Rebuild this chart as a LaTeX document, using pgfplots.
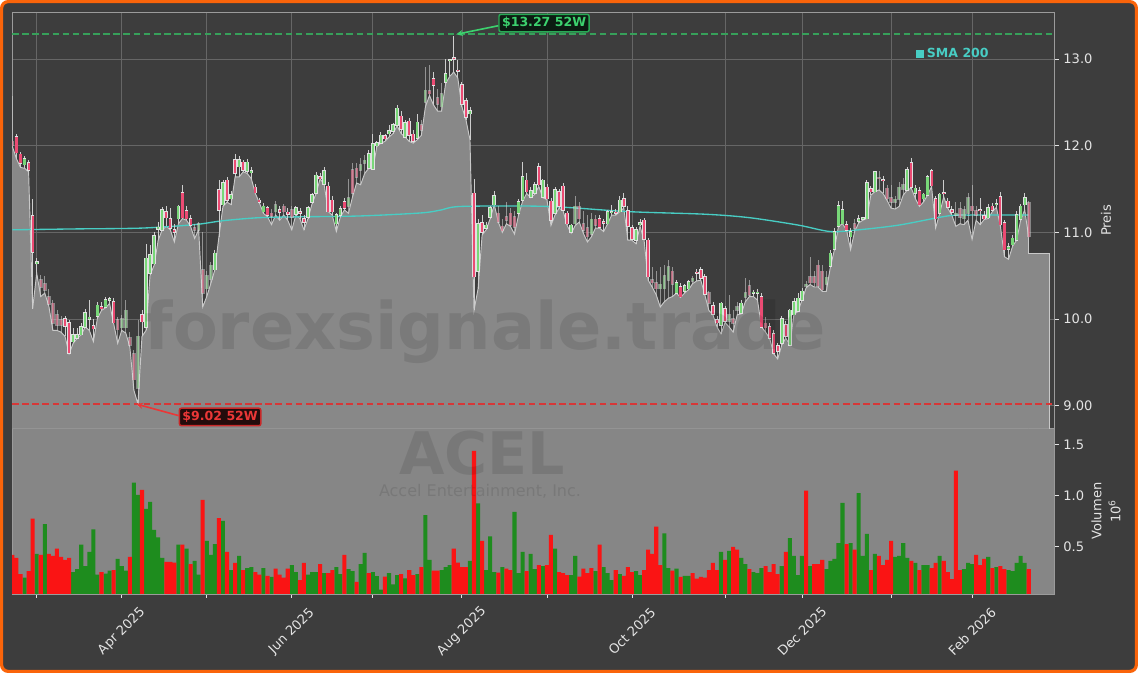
\documentclass[border=0pt]{standalone}
\usepackage{fontspec}
\setmainfont{DejaVu Sans}
\usepackage{pgfplots}
\pgfplotsset{compat=1.18}
\usepackage{pgfplotstable}
\usetikzlibrary{arrows.meta}

\definecolor{bg}{RGB}{61,61,61}
\definecolor{areagray}{RGB}{136,136,136}
\definecolor{volbg}{RGB}{134,134,134}
\definecolor{gridc}{RGB}{102,102,102}
\definecolor{framec}{RGB}{155,155,155}
\definecolor{tickc}{RGB}{228,228,228}
\definecolor{smac}{RGB}{72,205,196}
\definecolor{upc}{RGB}{120,215,120}
\definecolor{dnc}{RGB}{235,75,115}
\definecolor{edgec}{RGB}{225,225,225}
\definecolor{wickc}{RGB}{205,205,205}
\definecolor{areaedge}{RGB}{200,200,200}
\definecolor{volg}{RGB}{30,140,30}
\definecolor{volr}{RGB}{250,20,20}
\definecolor{hiline}{RGB}{55,160,90}
\definecolor{loline}{RGB}{215,55,55}
\definecolor{gtext}{RGB}{60,210,110}
\definecolor{gborder}{RGB}{40,170,85}
\definecolor{gfill}{RGB}{12,28,18}
\definecolor{rtext}{RGB}{235,55,55}
\definecolor{rborder}{RGB}{200,40,40}
\definecolor{rfill}{RGB}{35,12,12}
\definecolor{orangeb}{RGB}{250,100,10}

\pgfplotstableread{
i o h l c v g p
0 12.05 12.57 11.99 12.00 0.42 0 1
1 12.10 12.14 11.85 11.92 0.39 0 0
2 11.90 11.93 11.75 11.80 0.23 0 0
3 11.78 11.88 11.74 11.85 0.196 1 0
4 11.80 11.83 11.70 11.72 0.26 0 0
5 11.19 11.39 10.12 10.77 0.775 0 0
6 10.64 10.70 10.53 10.66 0.43 1 0
7 10.45 10.51 10.26 10.37 0.42 0 1
8 10.41 10.50 10.30 10.33 0.72 1 1
9 10.26 10.35 10.15 10.17 0.43 0 1
10 10.18 10.22 9.87 9.95 0.41 0 1
11 10.05 10.10 9.87 9.93 0.48 0 1
12 9.99 10.03 9.85 9.93 0.40 0 1
13 10.00 10.04 9.80 9.92 0.37 0 0
14 9.96 9.99 9.60 9.61 0.39 0 0
15 9.74 9.90 9.72 9.82 0.25 1 0
16 9.78 9.90 9.78 9.82 0.28 1 0
17 9.82 9.95 9.82 9.91 0.52 1 0
18 9.91 10.12 9.91 10.07 0.31 1 0
19 10.00 10.22 9.87 10.02 0.45 1 0
20 9.92 10.00 9.74 9.89 0.67 1 0
21 10.03 10.20 10.01 10.16 0.226 1 0
22 10.14 10.20 10.10 10.12 0.25 0 0
23 10.14 10.25 10.13 10.22 0.235 1 0
24 10.22 10.26 10.18 10.23 0.265 1 0
25 10.20 10.24 9.95 9.96 0.27 0 0
26 9.99 10.02 9.72 9.88 0.38 1 1
27 9.90 10.05 9.87 10.00 0.31 1 1
28 9.90 10.22 9.84 10.10 0.265 1 1
29 9.78 9.85 9.68 9.70 0.40 0 1
30 9.60 9.64 9.18 9.30 1.128 1 1
31 9.20 9.99 9.02 9.80 1.007 1 1
32 10.05 10.10 9.80 9.97 1.056 0 0
33 9.91 10.87 9.87 10.70 0.87 1 0
34 10.53 10.86 10.51 10.74 0.94 1 0
35 10.64 11.00 10.62 10.96 0.664 1 0
36 11.04 11.12 10.91 11.06 0.59 1 0
37 11.03 11.29 11.03 11.26 0.39 1 0
38 11.24 11.30 11.07 11.17 0.35 0 0
39 11.16 11.28 11.03 11.05 0.35 0 0
40 11.03 11.10 10.89 11.00 0.344 0 0
41 11.16 11.32 11.10 11.30 0.52 1 0
42 11.46 11.55 11.16 11.17 0.52 0 0
43 11.25 11.30 11.14 11.16 0.48 1 0
44 11.16 11.20 11.07 11.08 0.33 0 0
45 11.05 11.10 10.93 11.03 0.36 1 1
46 11.03 11.12 11.03 11.10 0.226 1 1
47 10.57 11.00 10.14 10.30 0.958 0 1
48 10.35 10.55 10.26 10.50 0.556 1 1
49 10.46 10.66 10.41 10.62 0.42 1 1
50 10.57 10.80 10.57 10.76 0.526 1 0
51 11.49 11.60 10.95 11.26 0.78 0 0
52 11.32 11.60 11.30 11.57 0.752 1 0
53 11.60 11.64 11.35 11.37 0.448 0 0
54 11.39 11.48 11.32 11.43 0.27 1 0
55 11.84 11.90 11.64 11.68 0.34 0 0
56 11.76 11.88 11.64 11.84 0.41 1 0
57 11.81 11.84 11.70 11.72 0.27 0 0
58 11.71 11.85 11.68 11.81 0.29 1 0
59 11.69 11.75 11.62 11.71 0.30 1 0
60 11.52 11.56 11.45 11.46 0.25 0 0
61 11.37 11.40 11.34 11.35 0.226 0 0
62 11.24 11.34 11.22 11.30 0.29 1 0
63 11.28 11.31 11.18 11.20 0.213 0 0
64 11.22 11.27 11.09 11.19 0.203 1 1
65 11.24 11.36 11.20 11.32 0.285 0 1
66 11.26 11.30 11.14 11.23 0.226 0 0
67 11.30 11.33 11.20 11.24 0.196 0 1
68 11.23 11.28 11.14 11.21 0.285 0 0
69 11.26 11.30 11.03 11.18 0.32 1 1
70 11.21 11.31 11.20 11.28 0.25 1 0
71 11.24 11.28 11.16 11.22 0.173 0 0
72 11.16 11.20 11.03 11.12 0.34 0 0
73 11.18 11.30 11.16 11.28 0.226 1 0
74 11.35 11.46 11.33 11.43 0.25 1 0
75 11.45 11.70 11.45 11.66 0.25 1 0
76 11.64 11.68 11.62 11.62 0.33 0 0
77 11.56 11.76 11.55 11.71 0.24 1 0
78 11.53 11.58 11.24 11.24 0.24 0 0
79 11.37 11.42 11.20 11.24 0.27 0 0
80 11.10 11.22 11.01 11.20 0.30 1 0
81 11.20 11.30 11.18 11.27 0.23 1 0
82 11.35 11.40 11.26 11.28 0.42 0 0
83 11.30 11.62 11.22 11.40 0.28 1 1
84 11.72 11.80 11.41 11.45 0.26 1 1
85 11.74 11.80 11.57 11.64 0.155 0 1
86 11.72 11.86 11.55 11.78 0.33 1 1
87 11.80 11.89 11.68 11.83 0.44 1 1
88 11.74 11.95 11.74 11.91 0.24 0 0
89 11.73 12.13 11.73 12.02 0.25 1 0
90 12.00 12.06 11.99 12.03 0.21 1 0
91 12.03 12.16 12.03 12.12 0.08 1 0
92 12.11 12.14 12.05 12.08 0.206 0 0
93 12.14 12.24 12.10 12.17 0.24 1 0
94 12.17 12.26 12.14 12.24 0.13 1 0
95 12.24 12.47 12.23 12.43 0.22 1 0
96 12.34 12.40 12.14 12.19 0.23 0 0
97 12.10 12.30 12.10 12.26 0.19 1 0
98 12.28 12.32 12.05 12.12 0.27 0 0
99 12.13 12.18 12.03 12.05 0.22 0 0
100 12.09 12.37 12.07 12.27 0.23 1 0
101 12.24 12.30 12.12 12.18 0.30 0 1
102 12.50 12.91 12.45 12.64 0.81 1 1
103 12.63 12.93 12.58 12.60 0.37 1 1
104 12.77 12.85 12.47 12.70 0.265 0 0
105 12.55 12.65 12.40 12.48 0.265 0 1
106 12.45 12.72 12.40 12.60 0.27 1 1
107 12.73 13.00 12.72 12.83 0.30 1 0
108 12.98 13.00 12.80 12.99 0.32 1 0
109 13.01 13.27 12.85 13.00 0.48 0 0
110 12.87 12.99 12.78 12.86 0.344 0 0
111 12.70 12.74 12.45 12.48 0.30 0 0
112 12.52 12.55 12.30 12.33 0.30 0 0
113 12.37 12.45 12.07 12.40 0.36 1 0
114 11.45 11.62 10.10 10.49 1.44 0 0
115 10.55 11.15 10.35 11.10 0.925 1 0
116 11.11 11.20 10.97 11.00 0.556 0 0
117 11.05 11.12 11.03 11.08 0.27 1 0
118 11.18 11.30 11.16 11.28 0.60 1 0
119 11.32 11.48 11.32 11.42 0.25 1 0
120 11.22 11.30 11.12 11.12 0.245 0 1
121 11.07 11.15 11.00 11.02 0.30 1 1
122 11.18 11.35 11.10 11.14 0.285 0 1
123 11.22 11.28 11.07 11.08 0.27 0 1
124 11.18 11.25 10.98 11.06 0.84 1 1
125 11.22 11.38 11.20 11.35 0.24 1 0
126 11.37 11.81 11.36 11.64 0.448 1 0
127 11.60 11.68 11.45 11.47 0.26 0 0
128 11.41 11.52 11.40 11.48 0.43 1 0
129 11.45 11.58 11.44 11.55 0.28 1 0
130 11.76 11.80 11.53 11.55 0.32 0 0
131 11.41 11.62 11.40 11.60 0.31 1 0
132 11.52 11.56 11.38 11.39 0.32 0 0
133 11.36 11.40 11.08 11.14 0.615 0 0
134 11.22 11.52 11.20 11.49 0.48 1 0
135 11.47 11.50 11.28 11.30 0.25 0 0
136 11.53 11.57 11.25 11.26 0.24 0 0
137 11.22 11.25 11.08 11.10 0.22 0 0
138 11.00 11.10 10.99 11.08 0.22 1 0
139 11.10 11.42 11.08 11.30 0.41 1 1
140 11.30 11.35 11.12 11.16 0.206 0 1
141 11.10 11.25 10.99 11.03 0.285 0 1
142 11.05 11.20 10.89 10.95 0.24 0 1
143 10.98 11.22 10.95 11.15 0.29 0 1
144 11.15 11.20 11.05 11.08 0.26 1 1
145 11.16 11.20 11.05 11.06 0.52 0 0
146 11.12 11.15 11.01 11.11 0.30 1 0
147 11.10 11.26 11.10 11.24 0.24 1 0
148 11.23 11.32 11.20 11.24 0.173 1 0
149 11.23 11.27 11.20 11.22 0.27 0 0
150 11.24 11.42 11.24 11.37 0.23 1 0
151 11.39 11.45 11.28 11.30 0.213 0 0
152 11.25 11.30 10.91 11.07 0.30 0 0
153 11.05 11.08 10.91 10.92 0.25 0 0
154 10.91 11.06 10.87 11.03 0.26 1 0
155 11.09 11.16 11.07 11.11 0.22 1 0
156 11.14 11.17 10.91 10.92 0.27 0 0
157 10.91 10.93 10.45 10.49 0.47 0 0
158 10.45 10.60 10.37 10.42 0.43 0 1
159 10.42 10.55 10.28 10.35 0.696 0 1
160 10.35 10.60 10.14 10.40 0.32 0 1
161 10.35 10.62 10.20 10.50 0.63 1 1
162 10.45 10.68 10.24 10.60 0.29 1 1
163 10.55 10.60 10.26 10.40 0.265 0 1
164 10.30 10.45 10.30 10.42 0.285 1 0
165 10.37 10.42 10.25 10.26 0.203 0 0
166 10.32 10.40 10.30 10.38 0.213 1 0
167 10.35 10.45 10.34 10.43 0.213 1 0
168 10.44 10.50 10.41 10.47 0.24 0 1
169 10.54 10.58 10.44 10.53 0.186 0 0
170 10.57 10.60 10.45 10.47 0.203 0 0
171 10.49 10.52 10.28 10.29 0.196 0 0
172 10.30 10.32 10.10 10.18 0.27 0 1
173 10.15 10.20 10.05 10.06 0.34 0 0
174 9.99 10.03 9.91 9.96 0.27 0 0
175 9.93 10.20 9.83 10.18 0.448 1 0
176 10.12 10.15 9.96 9.98 0.37 0 0
177 9.98 10.28 9.91 10.05 0.46 1 1
178 10.00 10.10 9.85 9.95 0.497 0 1
179 10.10 10.20 10.05 10.14 0.47 0 1
180 10.07 10.22 10.06 10.18 0.39 1 0
181 10.25 10.47 10.20 10.30 0.33 1 1
182 10.38 10.45 10.26 10.28 0.28 0 1
183 10.30 10.34 10.26 10.31 0.25 1 0
184 10.30 10.35 10.22 10.31 0.24 1 0
185 10.26 10.30 9.91 9.91 0.29 1 0
186 9.95 10.02 9.85 9.90 0.31 0 1
187 9.91 9.96 9.78 9.78 0.25 0 0
188 9.83 9.87 9.60 9.61 0.33 0 0
189 9.69 9.73 9.54 9.63 0.23 0 0
190 9.72 10.03 9.70 10.00 0.31 1 0
191 9.93 9.98 9.78 9.80 0.448 0 0
192 9.70 10.12 9.70 10.10 0.585 1 0
193 10.05 10.24 10.05 10.20 0.41 1 0
194 10.09 10.30 10.09 10.24 0.22 1 0
195 10.22 10.36 10.22 10.32 0.41 1 0
196 10.38 10.44 10.36 10.40 1.05 0 1
197 10.49 10.72 10.40 10.42 0.31 1 1
198 10.49 10.55 10.37 10.42 0.33 0 1
199 10.62 10.68 10.37 10.38 0.33 0 1
200 10.55 10.62 10.32 10.34 0.37 0 1
201 10.40 10.55 10.32 10.48 0.28 1 1
202 10.61 10.80 10.60 10.76 0.36 1 0
203 10.81 11.05 10.80 11.01 0.38 1 0
204 11.07 11.36 11.07 11.31 0.536 1 0
205 11.10 11.36 11.10 11.26 0.93 1 0
206 11.09 11.13 11.03 11.03 0.526 0 0
207 10.95 11.05 10.80 11.01 0.536 1 0
208 11.10 11.16 11.01 11.05 0.47 0 1
209 11.13 11.20 11.11 11.16 1.026 1 0
210 11.15 11.18 11.14 11.17 0.41 1 0
211 11.16 11.60 11.16 11.57 0.625 1 0
212 11.50 11.54 11.43 11.47 0.27 0 0
213 11.47 11.71 11.47 11.70 0.43 1 0
214 11.63 11.71 11.49 11.62 0.41 0 1
215 11.61 11.65 11.45 11.60 0.32 0 0
216 11.51 11.55 11.37 11.39 0.37 0 1
217 11.40 11.55 11.28 11.35 0.556 0 1
218 11.35 11.42 11.27 11.38 0.40 1 1
219 11.38 11.58 11.30 11.52 0.41 1 1
220 11.50 11.63 11.43 11.55 0.536 1 1
221 11.49 11.75 11.49 11.72 0.39 1 0
222 11.80 11.86 11.51 11.52 0.36 0 0
223 11.45 11.55 11.39 11.51 0.34 1 0
224 11.48 11.52 11.30 11.32 0.27 0 0
225 11.39 11.46 11.35 11.44 0.32 1 0
226 11.43 11.66 11.43 11.64 0.32 1 0
227 11.71 11.73 11.53 11.54 0.29 0 0
228 11.39 11.42 11.05 11.16 0.34 0 0
229 11.22 11.46 11.22 11.44 0.41 1 0
230 11.46 11.61 11.41 11.45 0.36 0 0
231 11.36 11.40 11.28 11.29 0.25 0 0
232 11.26 11.30 11.20 11.23 0.183 0 0
233 11.20 11.35 11.07 11.22 1.245 0 1
234 11.27 11.35 11.10 11.18 0.27 0 1
235 11.16 11.30 11.09 11.26 0.28 1 1
236 11.22 11.45 11.14 11.40 0.34 1 1
237 11.30 11.55 10.92 11.25 0.33 1 1
238 11.25 11.30 11.14 11.20 0.42 0 1
239 11.26 11.40 11.09 11.25 0.32 0 0
240 11.19 11.25 11.15 11.16 0.38 0 0
241 11.17 11.33 11.16 11.28 0.40 1 0
242 11.30 11.34 11.24 11.26 0.29 0 0
243 11.32 11.38 11.29 11.33 0.30 1 0
244 11.41 11.47 11.07 11.09 0.31 0 0
245 11.11 11.14 10.72 10.80 0.28 0 0
246 10.81 10.88 10.69 10.83 0.27 1 0
247 10.86 10.97 10.84 10.93 0.26 1 0
248 10.91 11.25 10.91 11.20 0.34 1 0
249 11.15 11.33 11.14 11.30 0.41 1 0
250 11.32 11.46 11.26 11.40 0.34 1 0
251 11.34 11.36 10.94 10.95 0.28 0 1
}\data

\pgfplotstableread{
i s
0 11.03
15 11.04
32 11.05
45 11.09
52 11.135
61 11.17
71 11.18
86 11.19
101 11.225
106 11.26
111 11.30
132 11.30
152 11.24
171 11.21
182 11.17
194 11.085
202 11.01
209 11.03
219 11.085
231 11.19
237 11.20
251 11.20
}\sma

\pgfplotsset{
  cbase/.style={mark=none, -, forget plot},
  bodyout/.style={cbase, quiver={u=0, v={abs(\thisrow{c}-\thisrow{o})+0.016}}, line width=2.7pt, draw=edgec},
  bodyin/.style={cbase, quiver={u=0, v={abs(\thisrow{c}-\thisrow{o})}}, line width=1.6pt},
  commonax/.style={
    scale only axis, width=782pt,
    xmin=-0.1, xmax=257.4,
    xtick={6,27,48,69,89,111,132,153,176,195,217,237},
    tick align=outside, major tick length=3pt,
    tick style={draw=tickc, line width=0.6pt},
    tick label style={font=\fontsize{9.8}{11}\selectfont, text=tickc},
    axis line style={draw=framec, line width=0.6pt},
    ytick pos=right, yticklabel pos=right,
    clip mode=individual,
  },
}

\begin{document}
\begin{tikzpicture}[x=1pt,y=1pt]
\useasboundingbox (0,0) rectangle (853.5,504.75);
\fill[white] (0,0) rectangle (853.5,504.75);
\draw[line width=2.4pt, draw=orangeb, fill=bg, rounded corners=5pt] (1.2,1.2) rectangle (852.3,503.55);

% ---------- volume panel ----------
\begin{axis}[commonax,
  at={(9pt,59.25pt)}, anchor=south west, height=124.3pt,
  ymin=0.036, ymax=1.661,
  ytick={0.5,1,1.5}, yticklabels={0.5,1.0,1.5},
  xtick pos=bottom,
  xticklabels={{},Apr 2025,{},Jun 2025,{},Aug 2025,{},Oct 2025,{},Dec 2025,{},Feb 2026},
  xticklabel style={/tikz/yshift=-25pt,/tikz/rotate=45,anchor=center},
  axis background/.style={fill=volbg},
  ylabel={Volumen\\10\textsuperscript{6}},
  ylabel style={at={(axis description cs:1.0492,0.5)}, anchor=center, rotate=0, align=center, text=tickc, font=\fontsize{9.8}{14.2}\selectfont},
]
\addplot[ybar, bar width=1, bar shift=0pt, fill=volg, draw=none,
  restrict expr to domain={\thisrow{g}}{0.5:1.5}] table[x=i,y=v]{\data};
\addplot[ybar, bar width=1, bar shift=0pt, fill=volr, draw=none,
  restrict expr to domain={\thisrow{g}}{-0.5:0.5}] table[x=i,y=v]{\data};
\end{axis}

% ---------- price panel ----------
\begin{axis}[commonax,
  at={(9pt,183.5pt)}, anchor=south west, height=312.2pt,
  ymin=8.74, ymax=13.542,
  ytick={9,10,11,12,13}, yticklabels={9.00,10.0,11.0,12.0,13.0},
  xticklabels={}, xtick style={/pgfplots/major tick length=0pt},
  grid=major, major grid style={draw=gridc, line width=0.5pt},
  axis background/.style={fill=bg},
  ylabel={Preis},
  ylabel style={at={(axis description cs:1.0492,0.5)}, anchor=center, text=tickc, font=\fontsize{9.8}{11}\selectfont},
  legend style={at={(0.903,0.899)}, anchor=center, draw=none, fill=none, text=smac,
    font=\bfseries\fontsize{9.4}{10}\selectfont, inner sep=1pt},
  legend image code/.code={\fill[smac] (0pt,-2.7pt) rectangle (5.4pt,2.7pt);},
]
% area under the lows
\addplot[fill=areagray, draw=none, forget plot] table[x=i,y=l]{\data} \closedcycle;
\addplot[fill=areagray, draw=none, forget plot] coordinates {(250.9,10.94) (251,10.76) (256.2,10.76)} \closedcycle;
\addplot[areaedge, line width=0.7pt, forget plot] table[x=i,y=l]{\data};
\addplot[areaedge, line width=0.7pt, forget plot] coordinates {(251,10.94) (251,10.76) (256.2,10.76) (256.2,8.70)};
% SMA 200
\addplot[smac, line width=1pt, smooth] table[x=i,y=s]{\sma};
\addlegendentry{SMA 200}
% 52-week lines
\addplot[hiline, line width=1.3pt, dash pattern=on 5pt off 2.6pt, forget plot] coordinates {(-0.1,13.285) (257.4,13.285)};
\addplot[loline, line width=1.3pt, dash pattern=on 5pt off 2.6pt, forget plot] coordinates {(-0.1,9.02) (257.4,9.02)};
% wicks
\addplot[cbase, quiver={u=0, v={\thisrow{h}-\thisrow{l}}}, draw=wickc, line width=0.6pt,
  restrict expr to domain={\thisrow{p}}{-0.5:0.5}] table[x=i,y=l]{\data};
\addplot[cbase, quiver={u=0, v={\thisrow{h}-\thisrow{l}}}, draw=wickc, line width=0.6pt, opacity=0.6,
  restrict expr to domain={\thisrow{p}}{0.5:1.5}] table[x=i,y=l]{\data};
% bodies: k = up + 2*pale
\addplot[bodyout, restrict expr to domain={(\thisrow{c}>=\thisrow{o})+2*\thisrow{p}}{-0.5:0.5}]
  table[x=i, y expr={min(\thisrow{o},\thisrow{c})-0.008}]{\data};
\addplot[bodyin, draw=dnc, restrict expr to domain={(\thisrow{c}>=\thisrow{o})+2*\thisrow{p}}{-0.5:0.5}]
  table[x=i, y expr={min(\thisrow{o},\thisrow{c})}]{\data};
\addplot[bodyout, restrict expr to domain={(\thisrow{c}>=\thisrow{o})+2*\thisrow{p}}{0.5:1.5}]
  table[x=i, y expr={min(\thisrow{o},\thisrow{c})-0.008}]{\data};
\addplot[bodyin, draw=upc, restrict expr to domain={(\thisrow{c}>=\thisrow{o})+2*\thisrow{p}}{0.5:1.5}]
  table[x=i, y expr={min(\thisrow{o},\thisrow{c})}]{\data};
\addplot[bodyout, opacity=0.45, restrict expr to domain={(\thisrow{c}>=\thisrow{o})+2*\thisrow{p}}{1.5:2.5}]
  table[x=i, y expr={min(\thisrow{o},\thisrow{c})-0.008}]{\data};
\addplot[bodyin, draw=dnc, opacity=0.45, restrict expr to domain={(\thisrow{c}>=\thisrow{o})+2*\thisrow{p}}{1.5:2.5}]
  table[x=i, y expr={min(\thisrow{o},\thisrow{c})}]{\data};
\addplot[bodyout, opacity=0.45, restrict expr to domain={(\thisrow{c}>=\thisrow{o})+2*\thisrow{p}}{2.5:3.5}]
  table[x=i, y expr={min(\thisrow{o},\thisrow{c})-0.008}]{\data};
\addplot[bodyin, draw=upc, opacity=0.45, restrict expr to domain={(\thisrow{c}>=\thisrow{o})+2*\thisrow{p}}{2.5:3.5}]
  table[x=i, y expr={min(\thisrow{o},\thisrow{c})}]{\data};
% annotations
\node[fill=gfill, draw=gborder, line width=1.1pt, rounded corners=1.5pt, text=gtext,
  font=\bfseries\fontsize{9.4}{10}\selectfont, inner sep=2.3pt] (hi) at (axis cs:131.3,13.415) {\$13.27 52W};
\draw[gtext, line width=1.2pt, -{Stealth[length=5pt,width=4.5pt]}] ([yshift=-2pt]hi.west) -- (axis cs:109.6,13.285);
\node[fill=rfill, draw=rborder, line width=1.1pt, rounded corners=1.5pt, text=rtext,
  font=\bfseries\fontsize{9.4}{10}\selectfont, inner sep=2.3pt] (lo) at (axis cs:51.3,8.871) {\$9.02 52W};
\draw[rtext, line width=1.2pt, -{Stealth[length=5pt,width=4.5pt]}] ([yshift=1pt]lo.west) -- (axis cs:30.6,9.02);
\end{axis}

% watermark
\node[anchor=base, text=black, text opacity=0.1, font=\bfseries\fontsize{49}{50}\selectfont] at (363.75,242.25) {forexsignale.trade};
\node[anchor=base, text=black, text opacity=0.1, font=\bfseries\fontsize{44}{46}\selectfont] at (361.5,148.5) {ACEL};
\node[anchor=base, text=black, text opacity=0.1, font=\fontsize{12}{14}\selectfont] at (360,132) {Accel Entertainment, Inc.};
\end{tikzpicture}
\end{document}
